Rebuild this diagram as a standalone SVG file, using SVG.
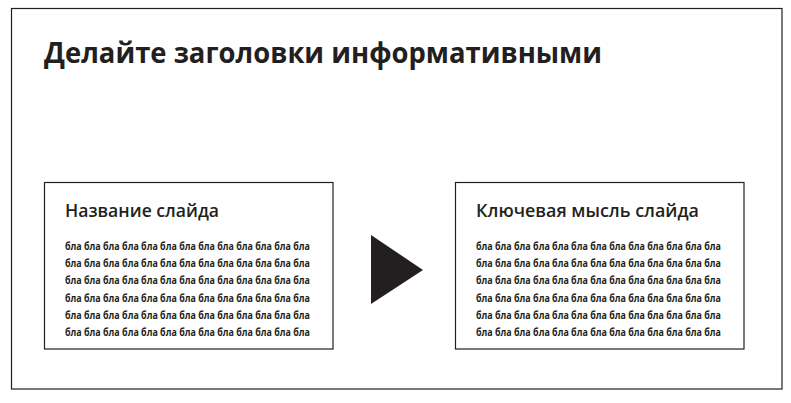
<svg xmlns="http://www.w3.org/2000/svg" width="791" height="403" viewBox="0 0 791 403">
<style>
.frame{fill:#ffffff;stroke:#231f20;stroke-width:1.2}
.box{fill:#ffffff;stroke:#231f20;stroke-width:1.2}
.title{font-family:"Open Sans","Noto Sans",sans-serif;font-weight:700;font-size:29px;fill:#231f20}
.stitle{font-family:"Open Sans","Noto Sans",sans-serif;font-weight:600;font-size:18.5px;fill:#231f20}
.bla{font-family:"Open Sans","Noto Sans",sans-serif;font-weight:700;font-size:10px;fill:#231f20}
</style>
<rect width="791" height="403" fill="#ffffff"/>
<rect class="frame" x="11.5" y="8.5" width="770.5" height="380.5"/>
<text class="title" x="44" y="62.5" textLength="558" lengthAdjust="spacingAndGlyphs">Делайте заголовки информативными</text>
<g id="slide-left">
<rect class="box" x="44.5" y="182.5" width="288.5" height="166.5"/>
<text class="stitle" x="65" y="216.7" textLength="154" lengthAdjust="spacingAndGlyphs">Название слайда</text>
<g class="bla">
<text x="65" y="249.5" textLength="245" lengthAdjust="spacingAndGlyphs">бла бла бла бла бла бла бла бла бла бла бла бла бла</text>
<text x="65" y="267" textLength="245" lengthAdjust="spacingAndGlyphs">бла бла бла бла бла бла бла бла бла бла бла бла бла</text>
<text x="65" y="284" textLength="245" lengthAdjust="spacingAndGlyphs">бла бла бла бла бла бла бла бла бла бла бла бла бла</text>
<text x="65" y="301.5" textLength="245" lengthAdjust="spacingAndGlyphs">бла бла бла бла бла бла бла бла бла бла бла бла бла</text>
<text x="65" y="318.5" textLength="245" lengthAdjust="spacingAndGlyphs">бла бла бла бла бла бла бла бла бла бла бла бла бла</text>
<text x="65" y="335.5" textLength="245" lengthAdjust="spacingAndGlyphs">бла бла бла бла бла бла бла бла бла бла бла бла бла</text>
</g>
</g>
<g id="connectors">
<polygon points="371,235 423,270 371,304" fill="#231f20"/>
</g>
<g id="slide-right">
<rect class="box" x="455.5" y="182.5" width="288.5" height="166.5"/>
<text class="stitle" x="476" y="216.7" textLength="223" lengthAdjust="spacingAndGlyphs">Ключевая мысль слайда</text>
<g class="bla">
<text x="476" y="249.5" textLength="245" lengthAdjust="spacingAndGlyphs">бла бла бла бла бла бла бла бла бла бла бла бла бла</text>
<text x="476" y="267" textLength="245" lengthAdjust="spacingAndGlyphs">бла бла бла бла бла бла бла бла бла бла бла бла бла</text>
<text x="476" y="284" textLength="245" lengthAdjust="spacingAndGlyphs">бла бла бла бла бла бла бла бла бла бла бла бла бла</text>
<text x="476" y="301.5" textLength="245" lengthAdjust="spacingAndGlyphs">бла бла бла бла бла бла бла бла бла бла бла бла бла</text>
<text x="476" y="318.5" textLength="245" lengthAdjust="spacingAndGlyphs">бла бла бла бла бла бла бла бла бла бла бла бла бла</text>
<text x="476" y="335.5" textLength="245" lengthAdjust="spacingAndGlyphs">бла бла бла бла бла бла бла бла бла бла бла бла бла</text>
</g>
</g>
</svg>
